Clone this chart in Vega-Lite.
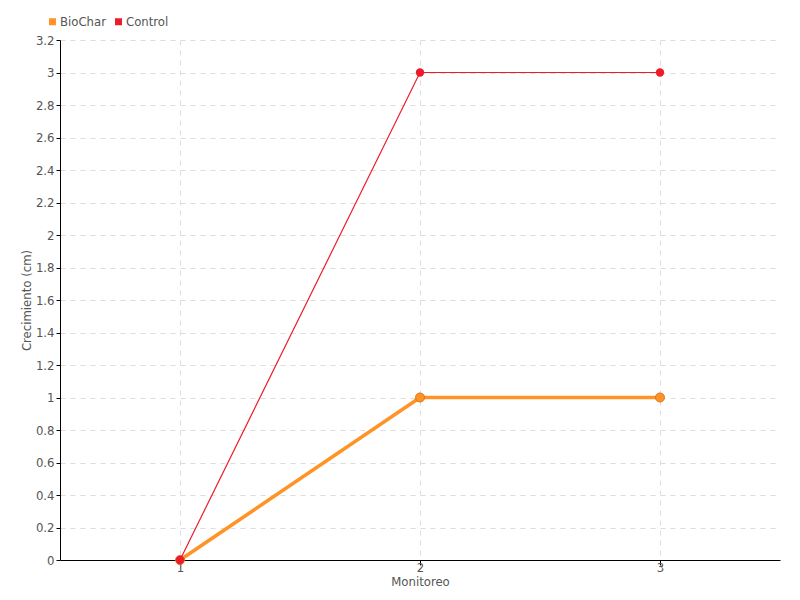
{
  "$schema": "https://vega.github.io/schema/vega-lite/v6.json",
  "autosize": {"type": "none"},
  "padding": {"left": 60, "top": 40, "right": 20, "bottom": 40},
  "width": 720,
  "height": 520,
  "background": "white",
  "config": {
    "view": {"stroke": null},
    "font": "DejaVu Sans Condensed",
    "axis": {
      "labelFont": "DejaVu Sans Condensed",
      "titleFont": "DejaVu Sans Condensed",
      "labelFontSize": 13,
      "titleFontSize": 13,
      "labelColor": "#555555",
      "titleColor": "#555555",
      "titleFontWeight": "normal",
      "domainColor": "#000000",
      "tickColor": "#000000",
      "gridColor": "#dddddd",
      "gridDash": [5, 5]
    }
  },
  "data": {
    "values": [
      {"Monitoreo": "1", "Crecimiento": 0, "Serie": "BioChar"},
      {"Monitoreo": "2", "Crecimiento": 1, "Serie": "BioChar"},
      {"Monitoreo": "3", "Crecimiento": 1, "Serie": "BioChar"},
      {"Monitoreo": "1", "Crecimiento": 0, "Serie": "Control"},
      {"Monitoreo": "2", "Crecimiento": 3, "Serie": "Control"},
      {"Monitoreo": "3", "Crecimiento": 3, "Serie": "Control"}
    ]
  },
  "encoding": {
    "x": {
      "field": "Monitoreo",
      "type": "ordinal",
      "scale": {"type": "point", "padding": 0.5},
      "axis": {"labelAngle": 0, "title": "Monitoreo", "titlePadding": 1, "labelPadding": -4, "tickSize": 5, "grid": true}
    },
    "y": {
      "field": "Crecimiento",
      "type": "quantitative",
      "scale": {"domain": [0, 3.2], "nice": false},
      "axis": {
        "title": "Crecimiento (cm)",
        "values": [0, 0.2, 0.4, 0.6, 0.8, 1, 1.2, 1.4, 1.6, 1.8, 2, 2.2, 2.4, 2.6, 2.8, 3, 3.2],
        "format": ".1~f",
        "tickSize": 4,
        "labelPadding": 2,
        "titlePadding": 2,
        "grid": true
      }
    },
    "color": {
      "field": "Serie",
      "type": "nominal",
      "scale": {"domain": ["BioChar", "Control"], "range": ["#ff9326", "#ee1c2a"]},
      "legend": {
        "title": null,
        "orient": "none",
        "legendX": -14,
        "legendY": -25,
        "direction": "horizontal",
        "symbolType": "square",
        "symbolSize": 30,
        "labelFontSize": 13,
        "labelColor": "#555555",
        "labelFont": "DejaVu Sans Condensed",
        "columnPadding": 6,
        "symbolOffset": 0,
        "labelOffset": 1
      }
    }
  },
  "layer": [
    {
      "transform": [{"filter": "datum.Serie == 'BioChar'"}],
      "mark": {"type": "line", "strokeWidth": 3.5},
      "encoding": {}
    },
    {
      "transform": [{"filter": "datum.Serie == 'BioChar'"}],
      "mark": {"type": "point", "filled": true, "size": 80, "opacity": 1, "stroke": "#d9741a", "strokeWidth": 1},
      "encoding": {}
    },
    {
      "transform": [{"filter": "datum.Serie == 'Control'"}],
      "mark": {"type": "line", "strokeWidth": 1.2, "color": "#f25560"},
      "encoding": {}
    },
    {
      "transform": [{"filter": "datum.Serie == 'Control'"}],
      "mark": {"type": "point", "filled": true, "size": 70, "opacity": 1},
      "encoding": {}
    }
  ]
}
